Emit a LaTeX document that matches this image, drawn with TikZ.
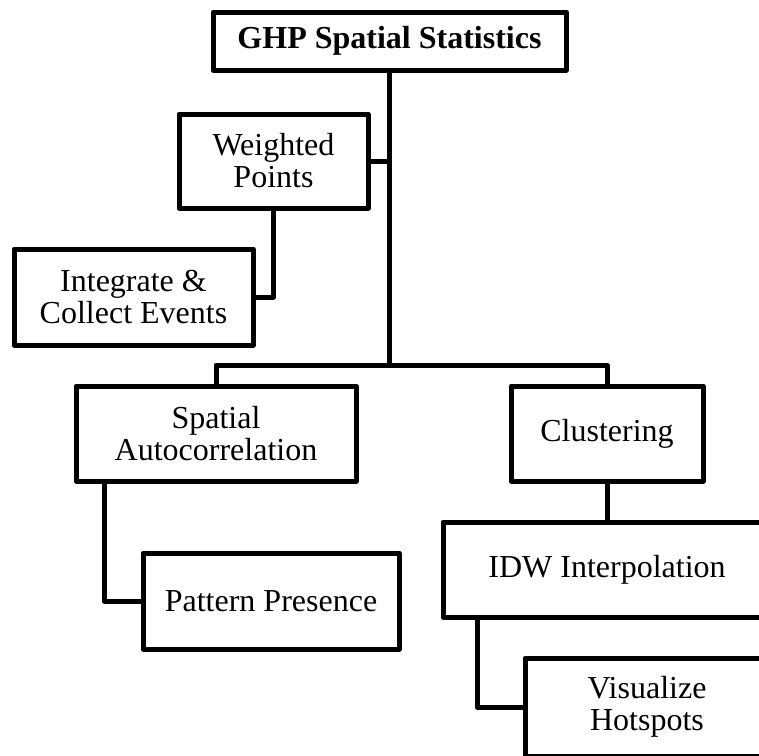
\documentclass[tikz,border=0pt]{standalone}
\usepackage{fontspec}
\setmainfont{Liberation Serif}
\begin{document}
\begin{tikzpicture}[x=1pt,y=-1pt,
  box/.style={draw, line width=5pt, line join=round, rectangle, outer sep=0pt,
    inner sep=0pt, align=center, font=\fontsize{32}{32}\selectfont},
  link/.style={line width=5pt, line join=round}]
  \useasboundingbox (0,0) rectangle (759,755);
  \clip (0,0) rectangle (759,755);

  % boxes
  \node[box, minimum width=353pt, minimum height=58pt, font=\fontsize{32}{32}\selectfont\bfseries]
    (ghp) at (389.5,41) {GHP Spatial Statistics};
  \node[box, minimum width=189pt, minimum height=94pt] (wp) at (273.5,161) {Weighted\\Points};
  \node[box, minimum width=239pt, minimum height=96pt] (ice) at (133.5,297) {Integrate \&\\Collect Events};
  \node[box, minimum width=280pt, minimum height=95pt] (sa) at (216,433.5) {Spatial\\Autocorrelation};
  \node[box, minimum width=256pt, minimum height=96pt] (pp) at (271,601) {Pattern Presence};
  \node[box, minimum width=192pt, minimum height=95pt] (cl) at (607,433.5) {Clustering};
  \node[box, minimum width=328pt, minimum height=95pt] (idw) at (607,569.5) {IDW Interpolation};
  \node[box, minimum width=244pt, minimum height=98pt] (vh) at (647,707) {Visualize\\Hotspots};

  % connector points
  \coordinate (bus) at (0,365);
  \coordinate (saleg) at ([xshift=28pt]sa.south west);
  \coordinate (idwleg) at ([xshift=34pt]idw.south west);

  % connectors
  \draw[link] (ghp.south) -- (ghp.south |- bus);
  \draw[link] (wp.east) -- (wp.east -| ghp.south);
  \draw[link] (wp.south) -- (wp.south |- ice.east) -- (ice.east);
  \draw[link] (sa.north) -- (sa.north |- bus) -- (cl.north |- bus) -- (cl.north);
  \draw[link] (saleg) -- (saleg |- pp.west) -- (pp.west);
  \draw[link] (cl.south) -- (idw.north);
  \draw[link] (idwleg) -- (idwleg |- vh.west) -- (vh.west);
\end{tikzpicture}
\end{document}
